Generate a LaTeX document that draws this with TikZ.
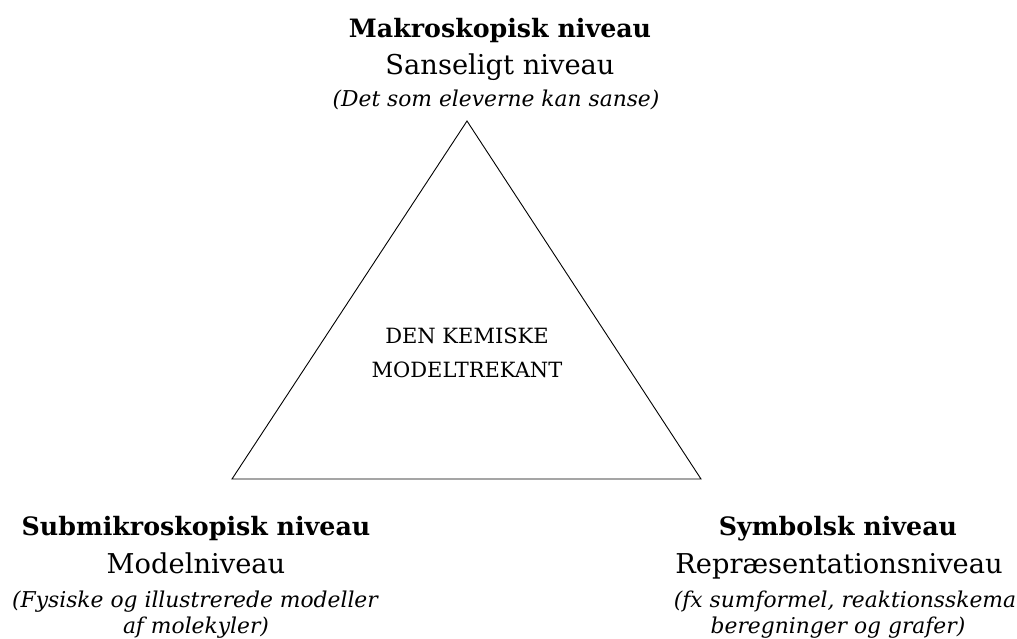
\documentclass[tikz,border=0pt]{standalone}
\usepackage{fontspec}
\setmainfont{DejaVu Serif}
\begin{document}
\begin{tikzpicture}[x=1pt,y=-1pt,
  lbl/.style={anchor=base,inner sep=0pt,font=\fontsize{27.3}{31}\selectfont},
  hd/.style={lbl,font=\fontsize{25.3}{29}\selectfont\bfseries},
  sub/.style={lbl,font=\fontsize{21.8}{25}\selectfont\itshape},
  ctr/.style={lbl,font=\fontsize{21}{25}\selectfont},
  edge/.style={draw=black,line width=0.9pt,line join=miter}]
\useasboundingbox (0,0) rectangle (1017,638);
\clip (0,0) rectangle (1017,638);
\coordinate (T) at (467,121);
\coordinate (L) at (232,479);
\coordinate (R) at (701,479);
\draw[edge] (T) -- (L) -- (R) -- cycle;
\node[ctr] (c1) at (467,343) {DEN KEMISKE};
\node[ctr] (c2) at (467,377) {MODELTREKANT};
\node[hd] (t1) at (500,37) {Makroskopisk niveau};
\node[lbl] (t2) at (500,74) {Sanseligt niveau};
\node[sub] (t3) at (496,106) {(Det som eleverne kan sanse)};
\node[hd] (l1) at (196,535) {Submikroskopisk niveau};
\node[lbl] (l2) at (196,573) {Modelniveau};
\node[sub] (l3) at (195,607) {(Fysiske og illustrerede modeller};
\node[sub] (l4) at (196,633) {af molekyler)};
\node[hd] (r1) at (838,535) {Symbolsk niveau};
\node[lbl] (r2) at (839,573) {Repræsentationsniveau};
\node[sub] (r3) at (845,607) {(fx sumformel, reaktionsskema};
\node[sub] (r4) at (838,633) {beregninger og grafer)};
\end{tikzpicture}
\end{document}
